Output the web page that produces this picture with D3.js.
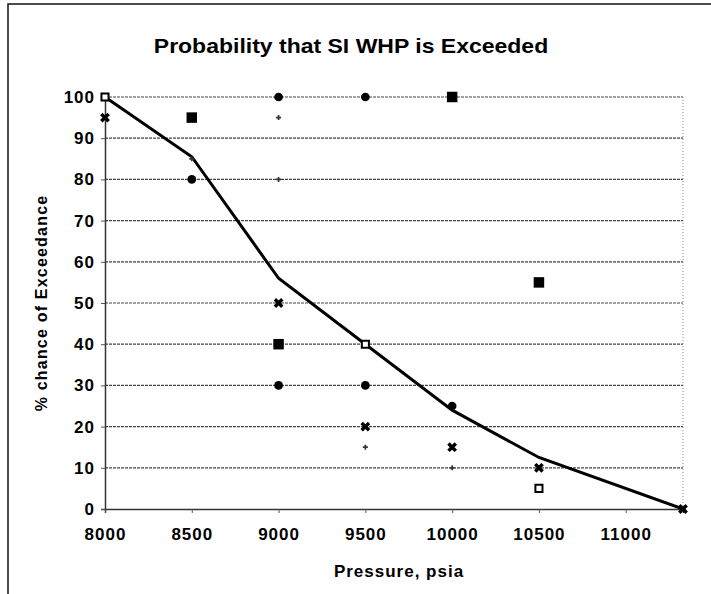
<!DOCTYPE html>
<html>
<head>
<meta charset="utf-8">
<script src="https://cdn.jsdelivr.net/npm/d3@7"></script>
<style>
  html, body { margin: 0; padding: 0; background: #fff; }
  svg { display: block; font-family: "Liberation Sans", Arial, sans-serif; }
</style>
</head>
<body>
<svg id="chart" width="711" height="594"></svg>
<script>
// ---- data ----
const title = "Probability that SI WHP is Exceeded";
const xLabel = "Pressure, psia";
const yLabel = "% chance of Exceedance";
const xTicks = [8000, 8500, 9000, 9500, 10000, 10500, 11000];
const yTicks = [0, 10, 20, 30, 40, 50, 60, 70, 80, 90, 100];

// fitted curve
const curveX = [8000, 8500, 9000, 9500, 10000, 10500, 11330];
const curveY = [100, 85.5, 56, 40, 24, 12.5, 0];

// scatter series (by marker style)
const squareX = [8500, 9000, 10000, 10500];
const squareY = [95, 40, 100, 55];
const circleX = [8500, 9000, 9000, 9500, 9500, 10000];
const circleY = [80, 100, 30, 100, 30, 25];
const crossX = [8000, 9000, 9500, 10000, 10500, 11330];
const crossY = [95, 50, 20, 15, 10, 0];
const plusX = [8500, 9000, 9000, 9500, 10000];
const plusY = [85, 95, 80, 15, 10];
const openX = [8000, 9500, 10500];
const openY = [100, 40, 5];

// ---- drawing ----
const svg = d3.select("#chart");
const x = d3.scaleLinear().domain([8000, 11330]).range([105, 683]);
const y = d3.scaleLinear().domain([0, 100]).range([509, 97]);

// outer border
svg.append("rect").attr("x", 8).attr("y", 4).attr("width", 720).attr("height", 620)
  .attr("fill", "none").attr("stroke", "#111").attr("stroke-width", 1.5);

// title
svg.append("text").attr("transform", "translate(351,53) scale(1.15,1)").attr("text-anchor", "middle")
  .attr("font-size", 20).attr("font-weight", "bold").attr("fill", "#000").text(title);

// gridlines
svg.append("g").selectAll("line").data(yTicks.filter(d => d > 0)).join("line")
  .attr("x1", x(8000)).attr("x2", x(11330))
  .attr("y1", d => y(d)).attr("y2", d => y(d))
  .attr("stroke", "#444").attr("stroke-width", 1.2).attr("stroke-dasharray", "3,1");

// right plot border (dotted)
svg.append("line").attr("x1", x(11330)).attr("x2", x(11330)).attr("y1", y(100)).attr("y2", y(0))
  .attr("stroke", "#888").attr("stroke-dasharray", "1,2");

// axes
const xAxis = d3.axisBottom(x).tickValues(xTicks).tickSize(4).tickPadding(15).tickFormat(d3.format("d"));
const gx = svg.append("g").attr("transform", `translate(0,${y(0)})`).call(xAxis);
gx.select(".domain").attr("stroke", "#333").attr("stroke-width", 1.5);
gx.selectAll(".tick line").attr("stroke", "#555");
gx.selectAll("text").attr("font-size", 17).attr("font-weight", "bold").attr("fill", "#000")
  .attr("letter-spacing", "1px")
  .attr("font-family", "Liberation Sans, Arial, sans-serif");

const yAxis = d3.axisLeft(y).tickValues(yTicks).tickSize(4).tickPadding(6);
const gy = svg.append("g").attr("transform", `translate(${x(8000)},0)`).call(yAxis);
gy.select(".domain").attr("stroke", "#333").attr("stroke-width", 1.5);
gy.selectAll(".tick line").attr("stroke", "#555");
gy.selectAll("text").attr("font-size", 17).attr("font-weight", "bold").attr("fill", "#000")
  .attr("letter-spacing", "1px")
  .attr("font-family", "Liberation Sans, Arial, sans-serif");

// axis titles
svg.append("text").attr("x", 399).attr("y", 577).attr("text-anchor", "middle")
  .attr("font-size", 17).attr("font-weight", "bold").attr("letter-spacing", "1px")
  .attr("fill", "#000").text(xLabel);
svg.append("text").attr("transform", `translate(47,${(y(0) + y(100)) / 2}) rotate(-90)`)
  .attr("text-anchor", "middle").attr("font-size", 16).attr("font-weight", "bold")
  .attr("letter-spacing", "1.2px").attr("fill", "#000").text(yLabel);

// curve
const curveData = curveX.map((v, i) => [v, curveY[i]]);
svg.append("path").datum(curveData)
  .attr("d", d3.line().x(d => x(d[0])).y(d => y(d[1])))
  .attr("fill", "none").attr("stroke", "#000").attr("stroke-width", 3);

// markers
const zip = (a, b) => a.map((v, i) => [v, b[i]]);
const sym = (type, size) => d3.symbol().type(type).size(size)();

svg.append("g").selectAll("path").data(zip(squareX, squareY)).join("path")
  .attr("transform", d => `translate(${x(d[0])},${y(d[1])})`)
  .attr("d", sym(d3.symbolSquare, 110)).attr("fill", "#000");

svg.append("g").selectAll("path").data(zip(circleX, circleY)).join("path")
  .attr("transform", d => `translate(${x(d[0])},${y(d[1])})`)
  .attr("d", sym(d3.symbolCircle, 60)).attr("fill", "#000");

svg.append("g").selectAll("path").data(zip(crossX, crossY)).join("path")
  .attr("transform", d => `translate(${x(d[0])},${y(d[1])}) rotate(45)`)
  .attr("d", sym(d3.symbolCross, 60)).attr("fill", "#000");

svg.append("g").selectAll("path").data(zip(plusX, plusY)).join("path")
  .attr("transform", d => `translate(${x(d[0])},${y(d[1])})`)
  .attr("d", sym(d3.symbolCross, 14)).attr("fill", "#333");

svg.append("g").selectAll("path").data(zip(openX, openY)).join("path")
  .attr("transform", d => `translate(${x(d[0])},${y(d[1])})`)
  .attr("d", sym(d3.symbolSquare, 50)).attr("fill", "#fff").attr("stroke", "#000").attr("stroke-width", 2);
</script>
</body>
</html>
